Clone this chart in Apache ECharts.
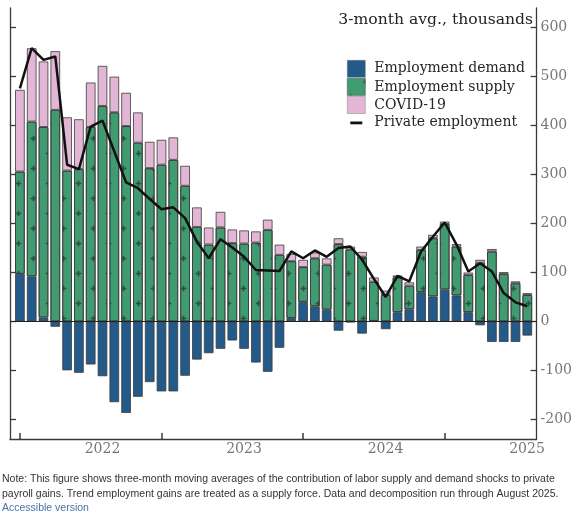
<!DOCTYPE html>
<html>
<head>
<meta charset="utf-8">
<script src="https://cdn.jsdelivr.net/npm/echarts@6/dist/echarts.min.js"></script>
<style>
html,body{margin:0;padding:0;background:#fff;}
#chart{width:575px;height:518px;}
</style>
</head>
<body>
<div id="chart"></div>
<script>
// Months Jan 2022 .. Aug 2025 (44 bars)
const months = [];
for (let y = 2022; y <= 2025; y++) {
  for (let m = 1; m <= 12; m++) {
    if (y === 2025 && m > 8) break;
    months.push(y + '-' + (m < 10 ? '0' + m : m));
  }
}
const demand = [97, 92, 8, -11, -100, -105, -88, -112, -165, -187, -154, -124, -143, -143, -111, -78, -65, -56, -39, -56, -84, -103, -54, 7, 40, 31, 24, -19, -2, -25, 1, -16, 19, 25, 60, 51, 65, 53, 19, -8, -42, -42, -42, -29];
const supply = [209, 316, 389, 432, 308, 311, 397, 440, 427, 399, 365, 313, 320, 330, 277, 193, 157, 192, 160, 159, 161, 187, 136, 116, 71, 98, 92, 158, 147, 132, 80, 54, 71, 48, 86, 119, 134, 100, 76, 120, 143, 97, 78, 54];
const covid = [167, 150, 134, 120, 109, 102, 91, 82, 73, 68, 62, 54, 51, 46, 41, 40, 35, 32, 28, 27, 23, 21, 21, 15, 15, 12, 13, 12, 6, 10, 9, 9, 4, 7, 7, 7, 5, 5, 5, 6, 5, 4, 4, 4];
const privateEmp = [476, 558, 534, 541, 320, 311, 398, 410, 347, 284, 272, 250, 229, 233, 211, 163, 129, 168, 151, 132, 105, 104, 103, 143, 129, 145, 132, 150, 153, 126, 87, 50, 93, 82, 143, 173, 202, 157, 102, 119, 102, 58, 39, 31];
const xTickLabels = ['2022', '2023', '2024', '2025'];
const xTickLabelMonths = ['2022-08', '2023-08', '2024-08', '2025-08'];
const xTickMonths = ['2022-01', '2023-01', '2024-01', '2025-01'];
const yTicks = [-200, -100, 0, 100, 200, 300, 400, 500, 600];

const idx = (m) => months.indexOf(m);
const labelIdx = xTickLabelMonths.map(idx);

const serif = 'DejaVu Serif';
const axisCol = '#3a3a3a';
const plus = 'path://M2.5,0h2v2.5h2.5v2h-2.5v2.5h-2v-2.5h-2.5v-2h2.5z';

const chart = echarts.init(document.getElementById('chart'), null, {renderer: 'canvas'});
const barBorder = {borderColor: 'rgba(60,60,60,0.8)', borderWidth: 1};
const yMin = -240, yMax = 640;

chart.setOption({
  animation: false,
  grid: [
    {left: 10, right: 38, top: 8, bottom: 79, containLabel: false},
    {left: 14, right: 41.8, top: 8, bottom: 79, containLabel: false}
  ],
  legend: {
    orient: 'vertical', left: 347, top: 60, padding: 0,
    itemWidth: 18, itemHeight: 17, itemGap: 0.5,
    selectedMode: false,
    itemStyle: {borderWidth: 0.6, borderColor: 'rgba(90,90,90,0.6)'},
    textStyle: {fontFamily: serif, fontSize: 14, color: '#262626', lineHeight: 17, padding: [0, 0, 0, 4]},
    data: [
      {name: 'Employment demand', icon: 'rect'},
      {name: 'Employment supply', icon: 'rect'},
      {name: 'COVID-19', icon: 'rect'},
      {name: 'Private employment', icon: 'path://M0,0M18,17M3,7.2h12v2.8h-12z', itemStyle: {color: '#111', borderWidth: 0}}
    ]
  },
  xAxis: [
    {
      type: 'value', gridIndex: 0,
      min: -0.847, max: 43.81,
      axisLine: {show: true, onZero: false, lineStyle: {color: axisCol, width: 1.3}},
      axisTick: {show: true, inside: true, length: 6, customValues: xTickMonths.map(idx), lineStyle: {color: axisCol, width: 1.5}},
      axisLabel: {
        show: true, customValues: labelIdx, margin: 3,
        color: '#777', fontFamily: serif, fontSize: 14,
        formatter: (v) => { const k = labelIdx.indexOf(Math.round(v)); return k >= 0 ? xTickLabels[k] : ''; }
      },
      splitLine: {show: false}
    },
    {
      type: 'category', gridIndex: 1, data: months, show: false, boundaryGap: true
    }
  ],
  yAxis: [
    {
      type: 'value', gridIndex: 0, position: 'left', min: yMin, max: yMax,
      axisLine: {show: true, onZero: false, lineStyle: {color: axisCol, width: 1.3}},
      axisTick: {show: true, inside: true, length: 6, customValues: yTicks, lineStyle: {color: axisCol, width: 1.3}},
      axisLabel: {show: false},
      splitLine: {show: false}
    },
    {
      type: 'value', gridIndex: 0, position: 'right', min: yMin, max: yMax,
      axisLine: {show: true, onZero: false, lineStyle: {color: axisCol, width: 1.3}},
      axisTick: {show: true, inside: true, length: 6, customValues: yTicks, lineStyle: {color: axisCol, width: 1.3}},
      axisLabel: {show: true, customValues: yTicks, margin: 4, color: '#777', fontFamily: serif, fontSize: 14},
      splitLine: {show: false}
    },
    {
      type: 'value', gridIndex: 1, min: yMin, max: yMax, show: false, splitLine: {show: false}
    }
  ],
  series: [
    {
      name: 'Employment demand', type: 'bar', stack: 'total', xAxisIndex: 1, yAxisIndex: 2,
      barWidth: 9.8, data: demand,
      itemStyle: Object.assign({color: '#235a8a'}, barBorder)
    },
    {
      name: 'Employment supply', type: 'bar', stack: 'total', xAxisIndex: 1, yAxisIndex: 2,
      barWidth: 9.8, data: supply,
      itemStyle: Object.assign({
        color: '#409b70',
        decal: {
          symbol: plus, symbolSize: 0.8,
          color: 'rgba(35,45,50,0.7)',
          dashArrayX: [[7, 23], [0, 15, 7, 8]],
          dashArrayY: [7, 8]
        }
      }, barBorder)
    },
    {
      name: 'COVID-19', type: 'bar', stack: 'total', xAxisIndex: 1, yAxisIndex: 2,
      barWidth: 9.8, data: covid,
      itemStyle: Object.assign({color: '#e3b6d6'}, barBorder)
    },
    {
      name: 'Private employment', type: 'line', xAxisIndex: 1, yAxisIndex: 2,
      data: privateEmp, showSymbol: false, symbol: 'none', z: 10,
      lineStyle: {color: '#111', width: 2.5},
      itemStyle: {color: '#111'}
    },
    {
      name: 'zero', type: 'line', xAxisIndex: 0, yAxisIndex: 1, data: [], z: 5,
      markLine: {
        silent: true, symbol: 'none', label: {show: false},
        lineStyle: {color: '#222', type: 'solid', width: 1},
        data: [{yAxis: 0}]
      }
    }
  ],
  graphic: [
    {type: 'text', right: 42, top: 12, style: {text: '3-month avg., thousands', fontFamily: serif, fontSize: 15.6, fill: '#222'}},
    {type: 'text', left: 2, top: 474, style: {text: 'Note: This figure shows three-month moving averages of the contribution of labor supply and demand shocks to private', fontFamily: 'Liberation Sans', fontSize: 10.5, fill: '#333'}},
    {type: 'text', left: 2, top: 489, style: {text: 'payroll gains. Trend employment gains are treated as a supply force. Data and decomposition run through August 2025.', fontFamily: 'Liberation Sans', fontSize: 10.5, fill: '#333'}},
    {type: 'text', left: 2, top: 503, style: {text: 'Accessible version', fontFamily: 'Liberation Sans', fontSize: 10.5, fill: '#4a72a6'}}
  ]
});
</script>
</body>
</html>
